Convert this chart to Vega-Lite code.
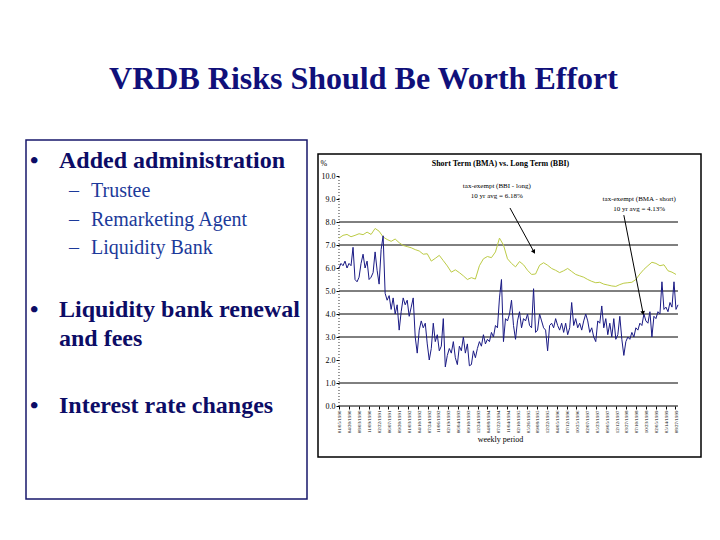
{
  "$schema": "https://vega.github.io/schema/vega-lite/v6.json",
  "background": "white",
  "padding": {"left": 25, "top": 63, "right": 22, "bottom": 20},
  "title": {"text": "VRDB Risks Should Be Worth Effort", "font": "Liberation Serif", "fontSize": 32, "fontWeight": "bold", "color": "#10107a", "anchor": "middle", "baseline": "top", "offset": 43},
  "config": {"view": {"stroke": null}},
  "datasets": {
    "bullets": [
      {"row": 0, "level": 0, "marker": "•", "text": "Added administration"},
      {"row": 6, "level": 1, "marker": "–", "text": "Trustee"},
      {"row": 12, "level": 1, "marker": "–", "text": "Remarketing Agent"},
      {"row": 18, "level": 1, "marker": "–", "text": "Liquidity Bank"},
      {"row": 31, "level": 0, "marker": "•", "text": "Liquidity bank renewal"},
      {"row": 37, "level": 0, "marker": "", "text": "and fees"},
      {"row": 51, "level": 0, "marker": "•", "text": "Interest rate changes"}
    ],
    "grid": [{"rate": 0}, {"rate": 1}, {"rate": 3}, {"rate": 4}, {"rate": 5}, {"rate": 7}, {"rate": 8}],
    "arrows": [
      {"id": 1, "week": 255.7, "rate": 8.61, "week2": 291.6, "rate2": 6.70},
      {"id": 2, "week": 426, "rate": 8.30, "week2": 454.7, "rate2": 4.04}
    ],
    "notes": [
      {"week": 236, "rate": 9.57, "label": "tax-exempt (BBI - long)\n10 yr avg = 6.18%"},
      {"week": 449, "rate": 9.0, "label": "tax-exempt (BMA - short)\n10 yr avg = 4.13%"}
    ],
    "bbi": [
      {"week": 0, "rate": 7.30}, {"week": 6, "rate": 7.42}, {"week": 12, "rate": 7.46}, {"week": 18, "rate": 7.36}, {"week": 24, "rate": 7.42},
      {"week": 30, "rate": 7.49}, {"week": 36, "rate": 7.45}, {"week": 42, "rate": 7.56}, {"week": 48, "rate": 7.46}, {"week": 54, "rate": 7.72},
      {"week": 60, "rate": 7.60}, {"week": 66, "rate": 7.35}, {"week": 72, "rate": 7.24}, {"week": 78, "rate": 7.16}, {"week": 84, "rate": 7.26},
      {"week": 90, "rate": 7.10}, {"week": 96, "rate": 6.98}, {"week": 102, "rate": 6.93}, {"week": 108, "rate": 6.88}, {"week": 114, "rate": 6.80},
      {"week": 120, "rate": 6.74}, {"week": 126, "rate": 6.60}, {"week": 132, "rate": 6.62}, {"week": 138, "rate": 6.30}, {"week": 144, "rate": 6.42},
      {"week": 150, "rate": 6.55}, {"week": 156, "rate": 6.32}, {"week": 162, "rate": 6.09}, {"week": 168, "rate": 5.82}, {"week": 174, "rate": 5.92},
      {"week": 180, "rate": 5.80}, {"week": 186, "rate": 5.66}, {"week": 192, "rate": 5.50}, {"week": 198, "rate": 5.58}, {"week": 204, "rate": 5.52},
      {"week": 210, "rate": 6.10}, {"week": 216, "rate": 6.40}, {"week": 222, "rate": 6.50}, {"week": 228, "rate": 6.45}, {"week": 234, "rate": 6.70},
      {"week": 240, "rate": 7.30}, {"week": 246, "rate": 7.00}, {"week": 252, "rate": 6.40}, {"week": 258, "rate": 6.20}, {"week": 264, "rate": 6.05},
      {"week": 270, "rate": 6.28}, {"week": 276, "rate": 6.14}, {"week": 282, "rate": 5.90}, {"week": 288, "rate": 5.72}, {"week": 294, "rate": 5.74},
      {"week": 300, "rate": 6.12}, {"week": 306, "rate": 6.23}, {"week": 312, "rate": 6.12}, {"week": 318, "rate": 5.98}, {"week": 324, "rate": 5.90},
      {"week": 330, "rate": 5.80}, {"week": 336, "rate": 5.88}, {"week": 342, "rate": 5.98}, {"week": 348, "rate": 5.85}, {"week": 354, "rate": 5.72},
      {"week": 360, "rate": 5.66}, {"week": 366, "rate": 5.60}, {"week": 372, "rate": 5.50}, {"week": 378, "rate": 5.42}, {"week": 384, "rate": 5.36},
      {"week": 390, "rate": 5.38}, {"week": 396, "rate": 5.30}, {"week": 402, "rate": 5.26}, {"week": 408, "rate": 5.22}, {"week": 414, "rate": 5.20},
      {"week": 420, "rate": 5.28}, {"week": 426, "rate": 5.34}, {"week": 432, "rate": 5.36}, {"week": 438, "rate": 5.38}, {"week": 444, "rate": 5.50},
      {"week": 450, "rate": 5.74}, {"week": 456, "rate": 5.94}, {"week": 462, "rate": 6.10}, {"week": 468, "rate": 6.25}, {"week": 474, "rate": 6.20},
      {"week": 480, "rate": 6.10}, {"week": 486, "rate": 6.14}, {"week": 492, "rate": 5.88}, {"week": 498, "rate": 5.82}, {"week": 504, "rate": 5.72}
    ],
    "bma": [
      {"week": 0, "rate": 6.0}, {"week": 3, "rate": 6.2}, {"week": 6, "rate": 6.1}, {"week": 9, "rate": 6.3}, {"week": 12, "rate": 6.0},
      {"week": 15, "rate": 6.2}, {"week": 18, "rate": 6.1}, {"week": 21, "rate": 6.9}, {"week": 24, "rate": 5.5}, {"week": 27, "rate": 5.4},
      {"week": 30, "rate": 5.6}, {"week": 33, "rate": 6.2}, {"week": 36, "rate": 6.6}, {"week": 39, "rate": 6.0}, {"week": 42, "rate": 6.3},
      {"week": 45, "rate": 5.5}, {"week": 48, "rate": 5.6}, {"week": 51, "rate": 5.8}, {"week": 54, "rate": 6.7}, {"week": 57, "rate": 5.9},
      {"week": 60, "rate": 5.3}, {"week": 63, "rate": 6.8}, {"week": 66, "rate": 7.4}, {"week": 69, "rate": 4.9}, {"week": 72, "rate": 4.6},
      {"week": 75, "rate": 4.8}, {"week": 78, "rate": 4.2}, {"week": 81, "rate": 4.7}, {"week": 84, "rate": 4.0}, {"week": 87, "rate": 4.4},
      {"week": 90, "rate": 3.3}, {"week": 93, "rate": 4.1}, {"week": 96, "rate": 4.7}, {"week": 99, "rate": 4.4}, {"week": 102, "rate": 4.6},
      {"week": 105, "rate": 3.9}, {"week": 108, "rate": 4.3}, {"week": 111, "rate": 4.7}, {"week": 114, "rate": 3.0}, {"week": 117, "rate": 2.3},
      {"week": 120, "rate": 3.3}, {"week": 123, "rate": 3.7}, {"week": 126, "rate": 3.4}, {"week": 129, "rate": 3.6}, {"week": 132, "rate": 2.7},
      {"week": 135, "rate": 2.0}, {"week": 138, "rate": 2.5}, {"week": 141, "rate": 3.6}, {"week": 144, "rate": 2.8}, {"week": 147, "rate": 3.1},
      {"week": 150, "rate": 2.4}, {"week": 153, "rate": 2.6}, {"week": 156, "rate": 3.8}, {"week": 159, "rate": 1.7}, {"week": 162, "rate": 2.2},
      {"week": 165, "rate": 2.5}, {"week": 168, "rate": 2.3}, {"week": 171, "rate": 2.8}, {"week": 174, "rate": 2.1}, {"week": 177, "rate": 1.8},
      {"week": 180, "rate": 2.6}, {"week": 183, "rate": 2.4}, {"week": 186, "rate": 3.0}, {"week": 189, "rate": 2.3}, {"week": 192, "rate": 2.7},
      {"week": 195, "rate": 1.75}, {"week": 198, "rate": 1.8}, {"week": 201, "rate": 2.4}, {"week": 204, "rate": 2.1}, {"week": 207, "rate": 2.5},
      {"week": 210, "rate": 2.8}, {"week": 213, "rate": 2.6}, {"week": 216, "rate": 3.1}, {"week": 219, "rate": 2.7}, {"week": 222, "rate": 2.9},
      {"week": 225, "rate": 2.8}, {"week": 228, "rate": 3.2}, {"week": 231, "rate": 3.0}, {"week": 234, "rate": 3.5}, {"week": 237, "rate": 3.4},
      {"week": 240, "rate": 4.7}, {"week": 243, "rate": 5.5}, {"week": 246, "rate": 2.8}, {"week": 249, "rate": 3.8}, {"week": 252, "rate": 3.7},
      {"week": 255, "rate": 4.0}, {"week": 258, "rate": 4.6}, {"week": 261, "rate": 3.5}, {"week": 264, "rate": 2.9}, {"week": 267, "rate": 3.7},
      {"week": 270, "rate": 4.1}, {"week": 273, "rate": 3.4}, {"week": 276, "rate": 3.8}, {"week": 279, "rate": 3.7}, {"week": 282, "rate": 4.0},
      {"week": 285, "rate": 3.5}, {"week": 288, "rate": 3.4}, {"week": 291, "rate": 5.1}, {"week": 294, "rate": 3.2}, {"week": 297, "rate": 3.3},
      {"week": 300, "rate": 4.0}, {"week": 303, "rate": 3.7}, {"week": 306, "rate": 3.4}, {"week": 309, "rate": 3.3}, {"week": 312, "rate": 2.4},
      {"week": 315, "rate": 3.5}, {"week": 318, "rate": 3.6}, {"week": 321, "rate": 3.4}, {"week": 324, "rate": 3.8}, {"week": 327, "rate": 3.5},
      {"week": 330, "rate": 3.3}, {"week": 333, "rate": 3.6}, {"week": 336, "rate": 3.2}, {"week": 339, "rate": 3.6}, {"week": 342, "rate": 3.1},
      {"week": 345, "rate": 3.4}, {"week": 348, "rate": 4.5}, {"week": 351, "rate": 3.5}, {"week": 354, "rate": 3.8}, {"week": 357, "rate": 3.4},
      {"week": 360, "rate": 3.6}, {"week": 363, "rate": 3.3}, {"week": 366, "rate": 3.7}, {"week": 369, "rate": 4.0}, {"week": 372, "rate": 3.7},
      {"week": 375, "rate": 3.2}, {"week": 378, "rate": 3.4}, {"week": 381, "rate": 3.0}, {"week": 384, "rate": 2.8}, {"week": 387, "rate": 3.7},
      {"week": 390, "rate": 3.6}, {"week": 393, "rate": 4.35}, {"week": 396, "rate": 3.4}, {"week": 399, "rate": 3.8}, {"week": 402, "rate": 3.1},
      {"week": 405, "rate": 3.6}, {"week": 408, "rate": 3.0}, {"week": 411, "rate": 3.8}, {"week": 414, "rate": 2.9}, {"week": 417, "rate": 3.1},
      {"week": 420, "rate": 3.9}, {"week": 423, "rate": 2.9}, {"week": 426, "rate": 2.2}, {"week": 429, "rate": 2.8}, {"week": 432, "rate": 3.0},
      {"week": 435, "rate": 2.9}, {"week": 438, "rate": 3.2}, {"week": 441, "rate": 3.0}, {"week": 444, "rate": 3.4}, {"week": 447, "rate": 3.3},
      {"week": 450, "rate": 3.6}, {"week": 453, "rate": 3.5}, {"week": 456, "rate": 4.0}, {"week": 459, "rate": 3.7}, {"week": 462, "rate": 3.6},
      {"week": 465, "rate": 4.1}, {"week": 468, "rate": 3.0}, {"week": 471, "rate": 3.9}, {"week": 474, "rate": 3.8}, {"week": 477, "rate": 4.1},
      {"week": 480, "rate": 4.0}, {"week": 483, "rate": 5.4}, {"week": 486, "rate": 4.2}, {"week": 489, "rate": 4.3}, {"week": 492, "rate": 4.1},
      {"week": 495, "rate": 4.5}, {"week": 498, "rate": 4.3}, {"week": 501, "rate": 5.4}, {"week": 504, "rate": 4.2}, {"week": 507, "rate": 4.4}
    ]
  },
  "spacing": 9,
  "hconcat": [
    {
      "width": 281,
      "height": 359,
      "view": {"stroke": "#17176b", "strokeWidth": 1.5},
      "data": {"name": "bullets"},
      "encoding": {
        "x": {"field": "level", "type": "quantitative", "scale": {"domain": [0, 1], "range": [4, 43], "nice": false, "zero": false}, "axis": null},
        "y": {"field": "row", "type": "quantitative", "scale": {"domain": [-5.833, 68.96], "reverse": true, "nice": false, "zero": false}, "axis": null}
      },
      "layer": [
        {"transform": [{"filter": "datum.level == 0"}], "mark": {"type": "text", "align": "left", "baseline": "alphabetic", "font": "Liberation Serif", "fontSize": 24, "fontWeight": "bold", "color": "#0c0c66"}, "encoding": {"text": {"field": "marker"}}},
        {"transform": [{"filter": "datum.level == 0"}], "mark": {"type": "text", "align": "left", "baseline": "alphabetic", "font": "Liberation Serif", "fontSize": 24, "fontWeight": "bold", "color": "#0c0c66", "dx": 29}, "encoding": {"text": {"field": "text"}}},
        {"transform": [{"filter": "datum.level == 1"}], "mark": {"type": "text", "align": "left", "baseline": "alphabetic", "font": "Liberation Serif", "fontSize": 20, "color": "#1c3a9a"}, "encoding": {"text": {"field": "marker"}}},
        {"transform": [{"filter": "datum.level == 1"}], "mark": {"type": "text", "align": "left", "baseline": "alphabetic", "font": "Liberation Serif", "fontSize": 20, "color": "#1c3a9a", "dx": 22}, "encoding": {"text": {"field": "text"}}}
      ]
    },
    {
      "spacing": 12,
      "vconcat": [
        {"width": 383, "height": 1, "data": {"values": []}, "mark": "point"},
        {
          "width": 383,
          "height": 303,
          "view": {"stroke": "#000000", "strokeWidth": 1.5},
          "title": {"text": "Short Term (BMA) vs. Long Term (BBI)", "font": "Liberation Serif", "fontSize": 8, "fontWeight": "bold", "color": "#000000", "anchor": "middle", "baseline": "alphabetic", "offset": -20, "dx": -9},
          "resolve": {"axis": {"x": "independent", "y": "independent"}},
          "layer": [
            {
              "data": {"name": "grid"},
              "mark": {"type": "rule", "color": "#000000", "strokeWidth": 1},
              "encoding": {
                "x": {"datum": 0, "type": "quantitative", "scale": {"domain": [-31.4, 541.4], "nice": false, "zero": false}, "axis": null},
                "x2": {"datum": 507},
                "y": {"field": "rate", "type": "quantitative", "scale": {"domain": [-2.217, 10.957], "nice": false, "zero": false}, "axis": null}
              }
            },
            {
              "data": {"name": "grid"},
              "transform": [{"filter": "datum.rate == 0"}],
              "mark": {"type": "rule", "color": "#333333", "strokeWidth": 1, "strokeDash": [1, 2]},
              "encoding": {
                "x": {"datum": 0, "type": "quantitative", "scale": {"domain": [-31.4, 541.4], "nice": false, "zero": false}, "axis": null},
                "y": {"field": "rate", "type": "quantitative", "scale": {"domain": [-2.217, 10.957], "nice": false, "zero": false}, "axis": null},
                "y2": {"datum": 10}
              }
            },
            {
              "data": {"name": "bbi"},
              "mark": {"type": "line", "color": "#bccb45", "strokeWidth": 1},
              "encoding": {
                "x": {"field": "week", "type": "quantitative", "scale": {"domain": [-31.4, 541.4], "nice": false, "zero": false}, "axis": null},
                "y": {"field": "rate", "type": "quantitative", "scale": {"domain": [-2.217, 10.957], "nice": false, "zero": false}, "axis": null}
              }
            },
            {
              "data": {"name": "bma"},
              "mark": {"type": "line", "color": "#1a1a84", "strokeWidth": 1},
              "encoding": {
                "x": {
                  "field": "week", "type": "quantitative",
                  "scale": {"domain": [-31.4, 541.4], "nice": false, "zero": false},
                  "axis": {
                    "orient": "bottom", "offset": -51,
                    "values": [0, 14.8, 29.6, 44.4, 59.2, 74, 88.8, 103.6, 118.4, 133.2, 148, 162.8, 177.6, 192.4, 207.2, 222, 236.8, 251.6, 266.4, 281.2, 296, 310.8, 325.6, 340.4, 355.2, 370, 384.8, 399.6, 414.4, 429.2, 444, 458.8, 473.6, 488.4, 503.2],
                    "labelExpr": "timeFormat(datetime(1990, 0, 5 + 7 * round(datum.value)), '%m/%d/%Y')",
                    "labelAngle": 270, "labelFont": "Liberation Serif", "labelFontSize": 5, "labelColor": "#000000",
                    "labelOverlap": false, "labelFlush": false, "labelPadding": 1,
                    "tickSize": 3, "tickColor": "#000000", "domain": false, "grid": false,
                    "title": "weekly period", "titleFont": "Liberation Serif", "titleFontSize": 8, "titleFontWeight": "normal", "titleColor": "#000000", "titlePadding": 3, "titleX": 182
                  }
                },
                "y": {
                  "field": "rate", "type": "quantitative",
                  "scale": {"domain": [-2.217, 10.957], "nice": false, "zero": false},
                  "axis": {
                    "orient": "left", "offset": -21,
                    "values": [0, 1, 2, 3, 4, 5, 6, 7, 8, 9, 10], "format": ".1f",
                    "labelFont": "Liberation Serif", "labelFontSize": 8, "labelColor": "#000000", "labelPadding": 1,
                    "labelOverlap": false, "labelFlush": false,
                    "tickSize": 3, "tickColor": "#000000", "domain": false, "grid": false,
                    "title": "%", "titleAngle": 0, "titleX": -19, "titleY": 9, "titleAlign": "left", "titleBaseline": "middle",
                    "titleFont": "Liberation Serif", "titleFontSize": 8, "titleFontWeight": "normal", "titleColor": "#000000"
                  }
                }
              }
            },
            {
              "data": {"name": "arrows"},
              "mark": {"type": "rule", "color": "#000000", "strokeWidth": 1},
              "encoding": {
                "x": {"field": "week", "type": "quantitative", "scale": {"domain": [-31.4, 541.4], "nice": false, "zero": false}, "axis": null},
                "y": {"field": "rate", "type": "quantitative", "scale": {"domain": [-2.217, 10.957], "nice": false, "zero": false}, "axis": null},
                "x2": {"field": "week2"},
                "y2": {"field": "rate2"}
              }
            },
            {
              "data": {"name": "arrows"},
              "transform": [{"filter": "datum.id == 1"}],
              "mark": {"type": "point", "shape": "triangle-up", "filled": true, "color": "#000000", "size": 22, "angle": 151, "opacity": 1},
              "encoding": {
                "x": {"field": "week2", "type": "quantitative", "scale": {"domain": [-31.4, 541.4], "nice": false, "zero": false}, "axis": null},
                "y": {"field": "rate2", "type": "quantitative", "scale": {"domain": [-2.217, 10.957], "nice": false, "zero": false}, "axis": null}
              }
            },
            {
              "data": {"name": "arrows"},
              "transform": [{"filter": "datum.id == 2"}],
              "mark": {"type": "point", "shape": "triangle-up", "filled": true, "color": "#000000", "size": 22, "angle": 169, "opacity": 1},
              "encoding": {
                "x": {"field": "week2", "type": "quantitative", "scale": {"domain": [-31.4, 541.4], "nice": false, "zero": false}, "axis": null},
                "y": {"field": "rate2", "type": "quantitative", "scale": {"domain": [-2.217, 10.957], "nice": false, "zero": false}, "axis": null}
              }
            },
            {
              "data": {"name": "notes"},
              "mark": {"type": "text", "font": "Liberation Serif", "fontSize": 7, "lineBreak": "\n", "lineHeight": 10, "align": "center", "baseline": "middle", "color": "#000000"},
              "encoding": {
                "x": {"field": "week", "type": "quantitative", "scale": {"domain": [-31.4, 541.4], "nice": false, "zero": false}, "axis": null},
                "y": {"field": "rate", "type": "quantitative", "scale": {"domain": [-2.217, 10.957], "nice": false, "zero": false}, "axis": null},
                "text": {"field": "label"}
              }
            }
          ]
        }
      ]
    }
  ]
}
